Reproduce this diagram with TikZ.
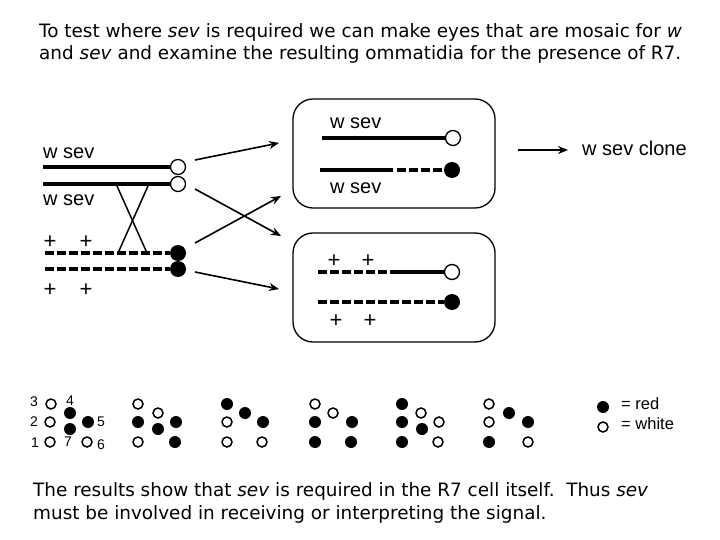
\documentclass[tikz,border=0pt]{standalone}
\usepackage{fontspec}
\setmainfont{DejaVu Sans}
\newfontfamily\arialf{Liberation Sans}
\usetikzlibrary{arrows.meta}
\begin{document}
\begin{tikzpicture}[x=1pt,y=-1pt,
  chr/.style={line width=4pt},
  dchr/.style={line width=4pt, dash pattern=on 8.5pt off 3.5pt},
  cen/.style={circle, draw, line width=1.3pt, fill=white, minimum size=15pt, inner sep=0pt},
  fcen/.style={circle, fill=black, minimum size=16pt, inner sep=0pt},
  arr/.style={line width=1.6pt, -{Stealth[length=10pt,width=8pt]}},
  lbl/.style={font=\arialf\fontsize{20}{22}\selectfont, inner sep=0pt},
  pl/.style={font=\arialf\fontsize{22}{24}\selectfont, inner sep=0pt},
  num/.style={font=\arialf\fontsize{14}{16}\selectfont, inner sep=0pt},
  leg/.style={font=\arialf\fontsize{16.5}{18}\selectfont, inner sep=0pt, anchor=west},
  box/.style={draw, rounded corners=20pt, line width=1.3pt, minimum width=202pt, minimum height=109pt},
  od/.style={circle, draw, line width=1.5pt, minimum size=10pt, inner sep=0pt},
  fd/.style={circle, fill=black, minimum size=12pt, inner sep=0pt},
  body/.style={anchor=base west, inner sep=0pt, font=\fontsize{18.4}{22}\selectfont},
  cross/.style={line width=1.5pt}
]
\path[use as bounding box] (0,0) rectangle (720,540);

% text
\node[body] (t1) at (39,38) {To test where \textit{sev} is required we can make eyes that are mosaic for \textit{w}};
\node[body] (t2) at (39,60) {and \textit{sev} and examine the resulting ommatidia for the presence of R7.};
\node[body] (t3) at (33,496) {The results show that \textit{sev} is required in the R7 cell itself.\ \ Thus \textit{sev}};
\node[body] (t4) at (33,519) {must be involved in receiving or interpreting the signal.};

% left chromosomes
\node[cen] (c1) at (178,167) {};
\node[cen] (c2) at (178,184) {};
\node[fcen] (c3) at (178,253) {};
\node[fcen] (c4) at (178,269) {};
\coordinate (l1) at (43,167);
\coordinate (l2) at (43,184);
\coordinate (l3) at (45,253);
\coordinate (l4) at (45,269);
\draw[chr] (l1) -- (c1.west);
\draw[chr] (l2) -- (c2.west);
\draw[dchr] (l3) -- (c3.west);
\draw[dchr] (l4) -- (c4.west);
\node[lbl, anchor=west] (wl1) at (43,153) {w sev};
\node[lbl, anchor=west] (wl2) at (43,200) {w sev};
\node[pl] (p1) at (50,242) {+};
\node[pl] (p2) at (86,242) {+};
\node[pl] (p3) at (50,290) {+};
\node[pl] (p4) at (86,290) {+};
\coordinate (x1) at (117,186);
\coordinate (x2) at (147,253);
\coordinate (x3) at (148,186);
\coordinate (x4) at (118,253);
\draw[cross] (x1) -- (x2);
\draw[cross] (x3) -- (x4);

% arrows
\coordinate (a1s) at (195,160); \coordinate (a1e) at (279,143);
\coordinate (a2s) at (195,189); \coordinate (a2e) at (281,236);
\coordinate (a3s) at (195,243); \coordinate (a3e) at (281,196);
\coordinate (a4s) at (195,272); \coordinate (a4e) at (279,289);
\draw[arr] (a1s) -- (a1e);
\draw[arr] (a2s) -- (a2e);
\draw[arr] (a3s) -- (a3e);
\draw[arr] (a4s) -- (a4e);

% box 1
\node[box] (b1) at (394,153.5) {};
\node[lbl, anchor=west] (wb1) at (330,123) {w sev};
\node[cen] (bc1) at (453,138) {};
\coordinate (bl1) at (322,138);
\draw[chr] (bl1) -- (bc1.west);
\node[fcen] (bc2) at (452,170) {};
\coordinate (bl2) at (320,170);
\coordinate (bm2) at (393,170);
\coordinate (bd2) at (397,170);
\draw[chr] (bl2) -- (bm2);
\draw[dchr] (bd2) -- (bc2.west);
\node[lbl, anchor=west] (wb2) at (330,188) {w sev};

% box 2
\node[box] (b2) at (394,287.5) {};
\node[pl] (q1) at (334,261) {+};
\node[pl] (q2) at (368,261) {+};
\node[cen] (bc3) at (452,272) {};
\coordinate (bl3) at (318,272);
\coordinate (bm3) at (398,272);
\draw[dchr] (bl3) -- (bm3);
\draw[chr] (bm3) -- (bc3.west);
\node[fcen] (bc4) at (452,302) {};
\coordinate (bl4) at (318,302);
\draw[dchr] (bl4) -- (bc4.west);
\node[pl] (q3) at (336,321) {+};
\node[pl] (q4) at (370,321) {+};

% clone arrow
\node[lbl, anchor=west] (clone) at (582,148) {w sev clone};
\coordinate (cs) at (518,150);
\coordinate (ce) at (568,150);
\draw[arr] (cs) -- (ce);

% ommatidium 1
\node[num] (n3) at (34,402) {3};
\node[num] (n4) at (70,401) {4};
\node[num] (n2) at (34,422) {2};
\node[num] (n5) at (101,422) {5};
\node[num] (n1) at (35,443) {1};
\node[num] (n7) at (68,442) {7};
\node[num] (n6) at (101,445) {6};
\node[od] (o1a) at (51,404) {};
\node[fd] (o1b) at (70,413) {};
\node[od] (o1c) at (50,422) {};
\node[fd] (o1d) at (88,422) {};
\node[fd] (o1e) at (70,429) {};
\node[od] (o1f) at (50,442) {};
\node[od] (o1g) at (87,442) {};
% ommatidium 2
\node[od] (o2a) at (138,404) {};
\node[od] (o2b) at (158,413) {};
\node[fd] (o2c) at (138,422) {};
\node[fd] (o2d) at (158,429) {};
\node[fd] (o2e) at (176,422) {};
\node[od] (o2f) at (138,442) {};
\node[fd] (o2g) at (175,442) {};
% ommatidium 3
\node[fd] (o3a) at (227,404) {};
\node[fd] (o3b) at (245,413) {};
\node[od] (o3c) at (227,422) {};
\node[fd] (o3d) at (263,422) {};
\node[od] (o3e) at (227,442) {};
\node[od] (o3f) at (262,442) {};
% ommatidium 4
\node[od] (o4a) at (315,404) {};
\node[od] (o4b) at (333,413) {};
\node[fd] (o4c) at (315,422) {};
\node[fd] (o4d) at (352,422) {};
\node[fd] (o4e) at (315,442) {};
\node[fd] (o4f) at (351,442) {};
% ommatidium 5
\node[fd] (o5a) at (402,404) {};
\node[od] (o5b) at (421,413) {};
\node[fd] (o5c) at (402,422) {};
\node[od] (o5d) at (439,422) {};
\node[fd] (o5e) at (422,429) {};
\node[fd] (o5f) at (402,442) {};
\node[od] (o5g) at (438,442) {};
% ommatidium 6
\node[od] (o6a) at (489,404) {};
\node[fd] (o6b) at (509,413) {};
\node[od] (o6c) at (489,422) {};
\node[fd] (o6d) at (528,422) {};
\node[fd] (o6e) at (489,442) {};
\node[od] (o6f) at (528,442) {};

% legend
\node[fd] (lr) at (603,407) {};
\node[leg] (lrt) at (621,404) {= red};
\node[od] (lw) at (603,427) {};
\node[leg] (lwt) at (621,424) {= white};
\end{tikzpicture}
\end{document}
